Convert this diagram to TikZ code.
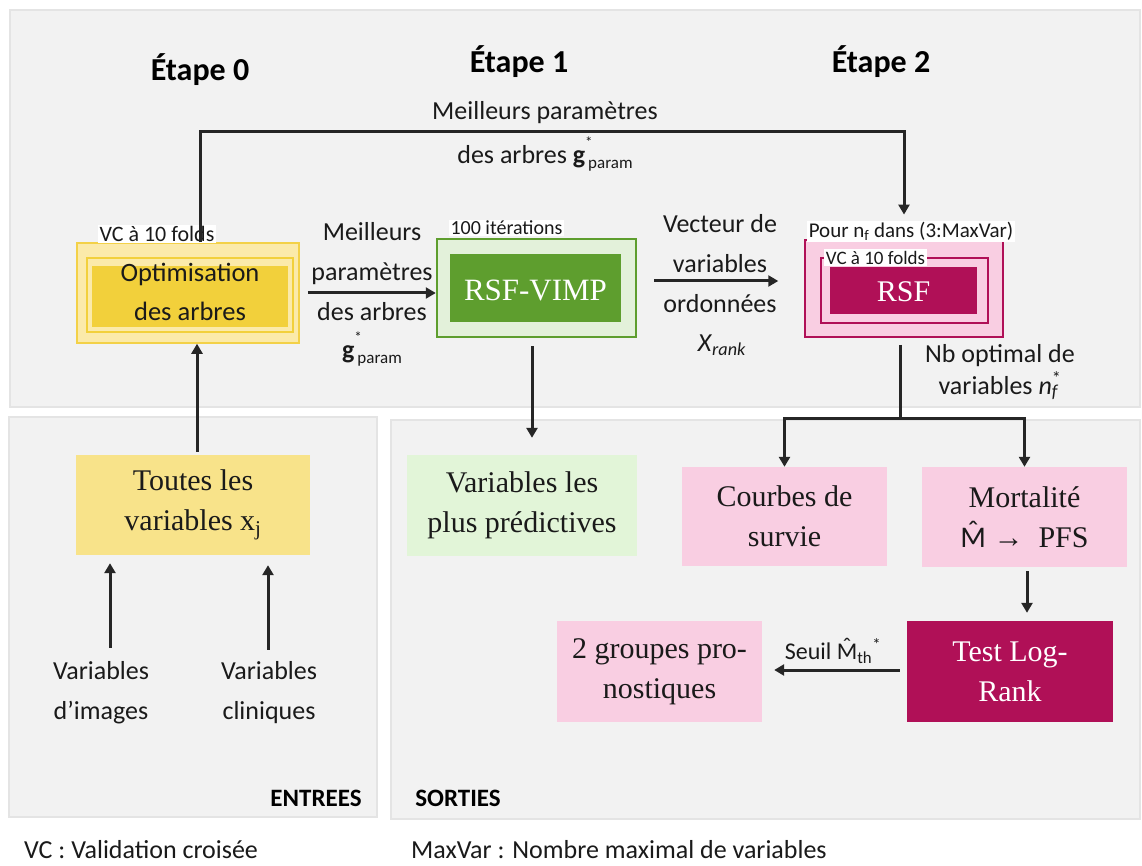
\documentclass[tikz,border=0pt]{standalone}
\usepackage{fontspec}
\setmainfont{Carlito}
\newfontfamily\seriffam{Liberation Serif}
\usetikzlibrary{arrows.meta}
\definecolor{panelfill}{HTML}{F2F2F2}
\definecolor{panelline}{HTML}{E4E4E4}
\definecolor{ydark}{HTML}{F2D03B}
\definecolor{ypale}{HTML}{FBEAAA}
\definecolor{yline}{HTML}{F3D148}
\definecolor{ytout}{HTML}{F8E38A}
\definecolor{gdark}{HTML}{5E9E2E}
\definecolor{gpale}{HTML}{E3F1DA}
\definecolor{predfill}{HTML}{E2F5D8}
\definecolor{mag}{HTML}{B01057}
\definecolor{ppale}{HTML}{F9CEE2}
\definecolor{linec}{HTML}{262626}
\definecolor{txt}{HTML}{1A1A1A}
\newcommand{\fs}[2]{\fontsize{#1}{#2}\selectfont}
\newcommand{\gstarparam}{\textbf{g}\rlap{\raisebox{0.62em}{\fs{15}{15}*}}\hspace{3pt}\raisebox{-0.22em}{\fs{17}{17}param}}
\newcommand{\Mhat}{{\rmfamily\setbox0=\hbox{M}\rlap{M}\makebox[\wd0][c]{\raisebox{0.2em}{ˆ}}}}
\begin{document}
\begin{tikzpicture}[x=1pt,y=-1pt,
  panel/.style={fill=panelfill,draw=panelline,line width=2.5pt},
  sbox/.style={inner sep=0pt,align=center,text=txt,font=\seriffam\fs{30}{40},minimum width=205pt,minimum height=100pt},
  slabel/.style={inner sep=0pt,align=center,text=txt,font=\fs{26}{40}},
  tag/.style={fill=white,inner sep=1.5pt,text=txt},
  arr/.style={draw=linec,line width=3pt,-{Triangle[length=10pt,width=11pt]}},
  ln/.style={draw=linec,line width=3pt},
  stage/.style={font=\bfseries\fs{32}{36},text=black},
  frame/.style={inner sep=0pt}
]
\useasboundingbox (0,0) rectangle (1142,866);
\fill[white] (0,0) rectangle (1142,866);
% panels
\draw[panel] (10,10) rectangle (1140,407);
\draw[panel] (9,417) rectangle (377,817);
\draw[panel] (391,420) rectangle (1140,819);

% stage headers
\node[stage] (e0) at (200,70) {Étape 0};
\node[stage] (e1) at (519,62) {Étape 1};
\node[stage] (e2) at (881,62) {Étape 2};

% Optimisation
\node[frame,minimum width=222pt,minimum height=100pt,fill=ypale,draw=yline,line width=1.5pt] (optout) at (188,293) {};
\node[frame,minimum width=206pt,minimum height=74pt,fill=ypale,draw=ydark,line width=2.5pt] (optmid) at (190,295) {};
\node[frame,minimum width=196pt,minimum height=61pt,fill=ydark] (optin) at (190,296.5) {};
\node[slabel,font=\fs{26.5}{39}] (opt) at (190,292) {Optimisation\\des arbres};
\node[tag,font=\fs{22}{23}] (vc1) at (157,234) {VC à 10 folds};

% RSF-VIMP
\node[frame,minimum width=199pt,minimum height=98pt,fill=gpale,draw=gdark,line width=2.5pt] (vimpout) at (536.5,288) {};
\node[frame,minimum width=171pt,minimum height=68pt,fill=gdark] (vimpin) at (535.5,288) {};
\node[font=\seriffam\fs{31}{36},text=white] (vimp) at (535.5,290) {RSF-VIMP};
\node[tag,font=\fs{20}{21}] (iter) at (506.5,228) {100 itérations};

% RSF
\node[frame,minimum width=198pt,minimum height=97pt,fill=ppale,draw=mag,line width=1.5pt] (rsfout) at (904,288.5) {};
\node[frame,minimum width=167pt,minimum height=65pt,fill=ppale,draw=mag,line width=2.5pt] (rsfmid) at (904.5,290.5) {};
\node[frame,minimum width=147pt,minimum height=47pt,fill=mag] (rsfin) at (903.5,290.5) {};
\node[font=\seriffam\fs{30}{36},text=white] (rsf) at (903.5,292) {RSF};
\node[tag,font=\fs{21}{22}] (pour) at (911,231.5) {Pour n\textsubscript{f} dans (3:MaxVar)};
\node[tag,font=\fs{19}{20}] (vc2) at (875.5,257.5) {VC à 10 folds};

% bottom boxes
\node[sbox,minimum width=234pt,fill=ytout] (toutes) at (193,505) {Toutes les\\variables x\textsubscript{j}};
\node[sbox,minimum width=230pt,minimum height=101pt,fill=predfill] (pred) at (522,505.5) {Variables les\\plus prédictives};
\node[sbox,minimum height=99pt,fill=ppale] (courbes) at (784.5,516.5) {Courbes de\\survie};
\node[sbox,fill=ppale] (mort) at (1024.5,517) {Mortalité\\\Mhat\ → \ PFS};
\node[sbox,minimum width=206pt,minimum height=101pt,fill=mag,text=white] (test) at (1010,671.5) {Test Log-\\Rank};
\node[sbox,minimum height=101pt,fill=ppale] (grp) at (659.5,671.5) {2 groupes pro-\\nostiques};

% input labels
\node[slabel] (img) at (101,693) {Variables\\d’images};
\node[slabel] (clin) at (269,693) {Variables\\cliniques};

% edge labels
\node[slabel] (mp1) at (545,113) {Meilleurs paramètres};
\node[slabel] (mp2) at (545,154) {des arbres \gstarparam};
\node[slabel] (lab1) at (372,272) {Meilleurs\\paramètres\\des arbres};
\node[slabel] (lab1g) at (372,349) {\gstarparam};
\node[slabel] (lab2) at (720,264) {Vecteur de\\variables\\ordonnées};
\node[slabel] (lab2x) at (722,345) {\textit{X}\textsubscript{\textit{rank}}};
\node[slabel,font=\fs{26}{32}] (lab3) at (1000,372) {Nb optimal de\\variables \textit{n}\rlap{\textsubscript{\textit{f}}}\textsuperscript{*}};
\node[slabel,font=\fs{24}{28}] (lab4) at (833,651) {Seuil \Mhat\textsubscript{th}\textsuperscript{*}};

% panel titles and footer
\node[font=\bfseries\fs{25}{30},text=black] (entrees) at (316,798) {ENTREES};
\node[font=\bfseries\fs{25}{30},text=black] (sorties) at (458,798) {SORTIES};
\node[font=\fs{26}{30},text=txt,anchor=west,inner sep=0pt] (fvc) at (24,850) {VC : Validation croisée};
\node[font=\fs{26}{30},text=txt,anchor=west,inner sep=0pt] (fmax) at (411,850) {MaxVar : Nombre maximal de variables};

% connectors
\coordinate (loopR) at (904,132);
\draw[arr,shorten >=6pt] ([xshift=12pt]optout.north) |- (loopR) -- (loopR |- pour.north);
\draw[arr] ([xshift=8pt]optout.east) -- (optout.east -| vimpout.west);
\draw[arr,shorten >=26pt] ([xshift=17pt,yshift=7pt]vimpout.east) -- ([yshift=7pt]vimpout.east -| rsfout.west);
\draw[arr,shorten >=17pt] ([xshift=-4.5pt,yshift=-8pt]vimpout.south) -- ([xshift=-4.5pt]vimpout.south |- pred.north);
\draw[arr] ([xshift=4pt,yshift=3pt]toutes.north) -- ([xshift=4pt]toutes.north |- optout.south);
\draw[arr,shorten >=8pt] ([xshift=9pt,yshift=14pt]img.north) -- ([xshift=9pt]img.north |- toutes.south);
\draw[arr,shorten >=10pt] ([xshift=-1pt,yshift=12pt]clin.north) -- ([xshift=-1pt]clin.north |- toutes.south);
\coordinate (split) at (900,418);
\draw[ln] ([xshift=-4pt,yshift=-7pt]rsfout.south) -- (split);
\draw[arr] (split) -| (courbes.north);
\draw[arr] (split) -| (mort.north);
\draw[arr,shorten >=8pt] ([xshift=2.5pt,yshift=-4pt]mort.south) -- ([xshift=2.5pt]mort.south |- test.north);
\draw[arr,shorten <=7pt,shorten >=12pt] ([yshift=1.5pt]test.west) -- ([yshift=1.5pt]grp.east);
\end{tikzpicture}
\end{document}
